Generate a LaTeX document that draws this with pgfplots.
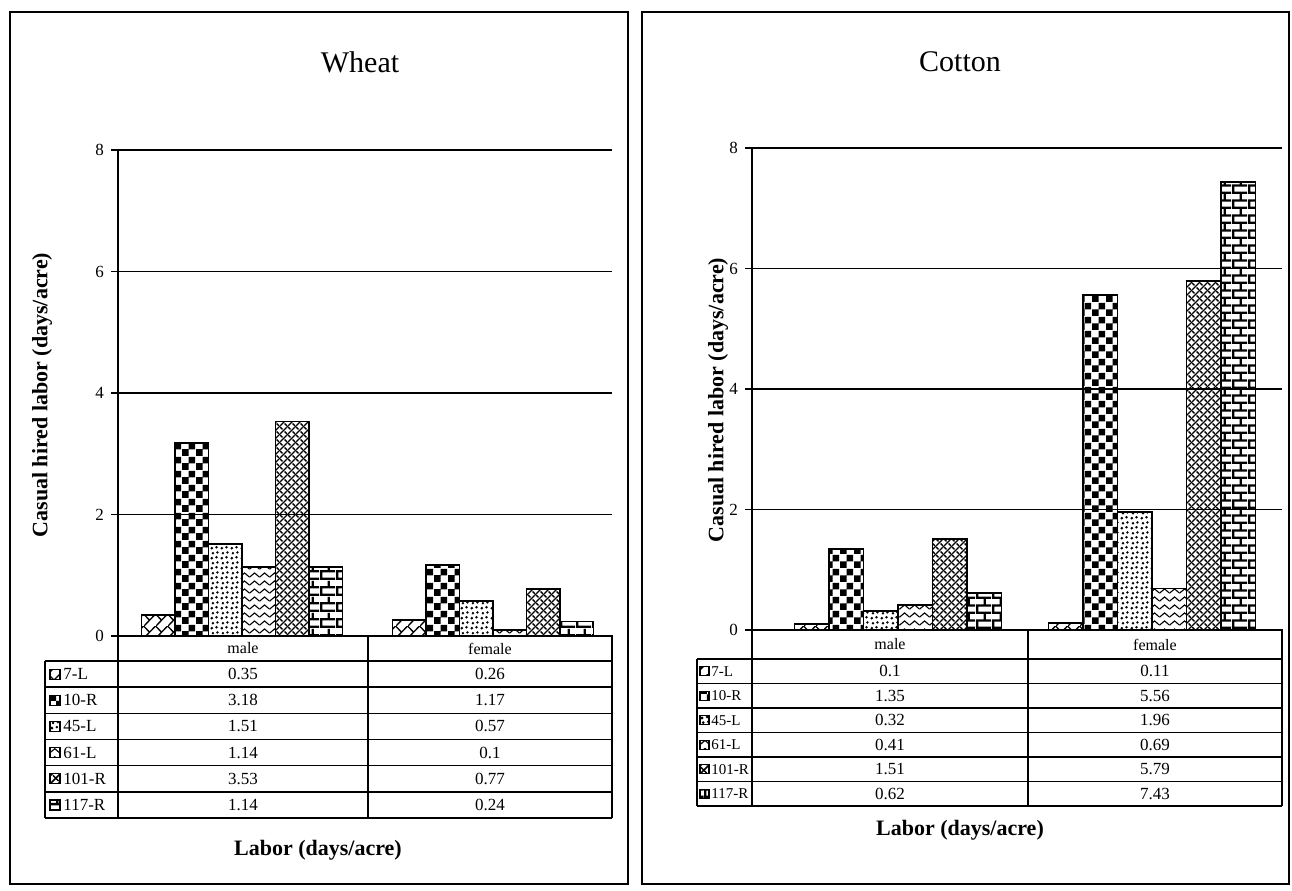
\documentclass[border=0pt]{standalone}
\usepackage{fontspec}
\setmainfont{Liberation Serif}
\usepackage{pgfplots}
\pgfplotsset{compat=1.18}
\usepackage{pgfplotstable}
\usetikzlibrary{patterns}

\pgfdeclarepatternformonly{diagx}{\pgfqpoint{0pt}{0pt}}{\pgfqpoint{6pt}{6pt}}{\pgfqpoint{6pt}{6pt}}{%
  \pgfsetlinewidth{0.7pt}%
  \pgfpathmoveto{\pgfqpoint{-0.5pt}{-0.5pt}}\pgfpathlineto{\pgfqpoint{6.5pt}{6.5pt}}%
  \pgfpathmoveto{\pgfqpoint{0pt}{6pt}}\pgfpathlineto{\pgfqpoint{3pt}{3pt}}%
  \pgfusepath{stroke}}
\pgfdeclarepatternformonly{bigchecker}{\pgfqpoint{0pt}{0pt}}{\pgfqpoint{7pt}{7pt}}{\pgfqpoint{7pt}{7pt}}{%
  \pgfpathrectangle{\pgfqpoint{0pt}{0pt}}{\pgfqpoint{3.6pt}{3.6pt}}%
  \pgfpathrectangle{\pgfqpoint{3.5pt}{3.5pt}}{\pgfqpoint{3.5pt}{3.5pt}}%
  \pgfusepath{fill}}
\pgfdeclarepatternformonly{confetti}{\pgfqpoint{0pt}{0pt}}{\pgfqpoint{5pt}{5pt}}{\pgfqpoint{5pt}{5pt}}{%
  \pgfpathcircle{\pgfqpoint{1pt}{1pt}}{0.8pt}%
  \pgfpathcircle{\pgfqpoint{3.6pt}{1.5pt}}{0.75pt}%
  \pgfpathcircle{\pgfqpoint{1.6pt}{3.7pt}}{0.75pt}%
  \pgfpathcircle{\pgfqpoint{4.1pt}{4.1pt}}{0.7pt}%
  \pgfusepath{fill}}
\pgfdeclarepatternformonly{zigzag}{\pgfqpoint{0pt}{0pt}}{\pgfqpoint{5pt}{4pt}}{\pgfqpoint{5pt}{4pt}}{%
  \pgfsetlinewidth{0.6pt}%
  \pgfpathmoveto{\pgfqpoint{-0.3pt}{0.4pt}}\pgfpathlineto{\pgfqpoint{2.5pt}{2.8pt}}\pgfpathlineto{\pgfqpoint{5.3pt}{0.4pt}}%
  \pgfusepath{stroke}}
\pgfdeclarepatternformonly{weave}{\pgfqpoint{0pt}{0pt}}{\pgfqpoint{4pt}{4pt}}{\pgfqpoint{4pt}{4pt}}{%
  \pgfsetlinewidth{0.75pt}%
  \pgfpathmoveto{\pgfqpoint{-0.5pt}{-0.5pt}}\pgfpathlineto{\pgfqpoint{4.5pt}{4.5pt}}%
  \pgfpathmoveto{\pgfqpoint{0pt}{4pt}}\pgfpathlineto{\pgfqpoint{1.4pt}{2.6pt}}%
  \pgfpathmoveto{\pgfqpoint{2.6pt}{1.4pt}}\pgfpathlineto{\pgfqpoint{4pt}{0pt}}%
  \pgfusepath{stroke}}
\pgfdeclarepatternformonly{bigbricks}{\pgfqpoint{0pt}{0pt}}{\pgfqpoint{8pt}{7.7pt}}{\pgfqpoint{8pt}{7.7pt}}{%
  \pgfpathrectangle{\pgfqpoint{0pt}{0pt}}{\pgfqpoint{8pt}{1.2pt}}%
  \pgfpathrectangle{\pgfqpoint{0pt}{3.85pt}}{\pgfqpoint{8pt}{1.2pt}}%
  \pgfpathrectangle{\pgfqpoint{0pt}{0pt}}{\pgfqpoint{1.2pt}{3.85pt}}%
  \pgfpathrectangle{\pgfqpoint{4pt}{3.85pt}}{\pgfqpoint{1.2pt}{3.85pt}}%
  \pgfusepath{fill}}

\pgfplotstableread{
x    a     b     c     d     e     f
124  0.35  3.18  1.51  1.14  3.53  1.14
375  0.26  1.17  0.57  0.10  0.77  0.24
}\wheat
\pgfplotstableread{
x    a     b     c     d     e     f
146  0.10  1.35  0.32  0.41  1.51  0.62
400  0.11  5.56  1.96  0.69  5.79  7.43
}\cotton

\pgfplotsset{
  panel/.style={
    scale only axis, ybar=0pt, ymin=0, ymax=8, ytick={0,2,4,6,8},
    ymajorgrids, grid style={black, line width=0.7pt},
    xtick=\empty, axis lines*=left,
    axis line style={black, line width=1pt},
    ytick style={black, line width=0.7pt}, tick align=outside, major tick length=3.5pt,
    yticklabel style={font=\fontsize{8.5}{10}\selectfont},
    /pgf/number format/assume math mode=true,
    enlarge x limits=false, anchor=south west,
  },
  barbase/.style={draw=black, line width=0.9pt, pattern color=black},
}
\newcommand{\fs}[1]{\fontsize{#1}{#1}\selectfont}

\begin{document}
\begin{tikzpicture}
\path[use as bounding box] (0,0) rectangle (646pt,-445pt);

% Wheat
\begin{axis}[panel, at={(59pt,-318pt)}, width=247pt, height=243pt, xmin=0, xmax=494, bar width=33.5]
\addplot[barbase, pattern=diagx] table[x=x,y=a]{\wheat};
\addplot[barbase, pattern=bigchecker] table[x=x,y=b]{\wheat};
\addplot[barbase, pattern=confetti] table[x=x,y=c]{\wheat};
\addplot[barbase, pattern=zigzag] table[x=x,y=d]{\wheat};
\addplot[barbase, pattern=weave] table[x=x,y=e]{\wheat};
\addplot[barbase, pattern=bigbricks] table[x=x,y=f]{\wheat};
\end{axis}

% Cotton
\begin{axis}[panel, at={(376pt,-315pt)}, width=265pt, height=241pt, xmin=0, xmax=530, bar width=34.5]
\addplot[barbase, pattern=diagx] table[x=x,y=a]{\cotton};
\addplot[barbase, pattern=bigchecker] table[x=x,y=b]{\cotton};
\addplot[barbase, pattern=confetti] table[x=x,y=c]{\cotton};
\addplot[barbase, pattern=zigzag] table[x=x,y=d]{\cotton};
\addplot[barbase, pattern=weave] table[x=x,y=e]{\cotton};
\addplot[barbase, pattern=bigbricks] table[x=x,y=f]{\cotton};
\end{axis}

\begin{scope}[x=0.5pt, y=-0.5pt]
% frames
\draw[line width=1.2pt] (10,12) rectangle (628,884);
\draw[line width=1.2pt] (642,12) rectangle (1289,884);

% titles
\node[font=\fs{15}] at (360,62) {Wheat};
\node[font=\fs{15}] at (960,62) {Cotton};

% y labels
\node[font=\bfseries\fs{11}, rotate=90] at (42,395) {Casual hired labor (days/acre)};
\node[font=\bfseries\fs{11}, rotate=90] at (718,400) {Casual hired labor (days/acre)};

% x labels
\node[font=\bfseries\fs{11}] at (318,850) {Labor (days/acre)};
\node[font=\bfseries\fs{11}] at (960,830) {Labor (days/acre)};

% ---- Wheat table
\begin{scope}[line width=0.75pt]
\draw (118,636) rectangle (612,661);
\draw (368,636) -- (368,818);
\foreach \yy in {661,687.2,713.3,739.5,765.7,791.8,818} {\draw (45,\yy) -- (612,\yy);}
\draw (45,661) -- (45,818);
\draw (118,661) -- (118,818);
\draw (612,661) -- (612,818);
\end{scope}
\node[font=\fs{8}] at (243,648.5) {male};
\node[font=\fs{8}] at (490,648.5) {female};
\foreach \lab/\m/\f/\pat [count=\i from 0] in {7-L/0.35/0.26/diagx, 10-R/3.18/1.17/bigchecker, 45-L/1.51/0.57/confetti, 61-L/1.14/0.1/zigzag, 101-R/3.53/0.77/weave, 117-R/1.14/0.24/bigbricks}{
  \pgfmathsetmacro{\yc}{674.1+26.17*\i}
  \draw[line width=0.6pt, pattern=\pat] (50,\yc-5) rectangle (60,\yc+5);
  \node[font=\fs{8.5}, anchor=west, inner sep=0pt] at (63,\yc) {\lab};
  \node[font=\fs{8.5}] at (243,\yc) {\m};
  \node[font=\fs{8.5}] at (490,\yc) {\f};
}

% ---- Cotton table
\begin{scope}[line width=0.75pt]
\draw (752,630) rectangle (1282,659);
\draw (1028,630) -- (1028,806);
\foreach \yy in {659,683.5,708,732.5,757,781.5,806} {\draw (697,\yy) -- (1282,\yy);}
\draw (697,659) -- (697,806);
\draw (752,659) -- (752,806);
\draw (1282,659) -- (1282,806);
\end{scope}
\node[font=\fs{8}] at (890,644.5) {male};
\node[font=\fs{8}] at (1155,644.5) {female};
\foreach \lab/\m/\f/\pat [count=\i from 0] in {7-L/0.1/0.11/diagx, 10-R/1.35/5.56/bigchecker, 45-L/0.32/1.96/confetti, 61-L/0.41/0.69/zigzag, 101-R/1.51/5.79/weave, 117-R/0.62/7.43/bigbricks}{
  \pgfmathsetmacro{\yc}{671.25+24.5*\i}
  \draw[line width=0.6pt, pattern=\pat] (700,\yc-4.5) rectangle (709,\yc+4.5);
  \node[font=\fs{7.5}, anchor=west, inner sep=0pt] at (711,\yc) {\lab};
  \node[font=\fs{8.5}] at (890,\yc) {\m};
  \node[font=\fs{8.5}] at (1155,\yc) {\f};
}
\end{scope}
\end{tikzpicture}
\end{document}
